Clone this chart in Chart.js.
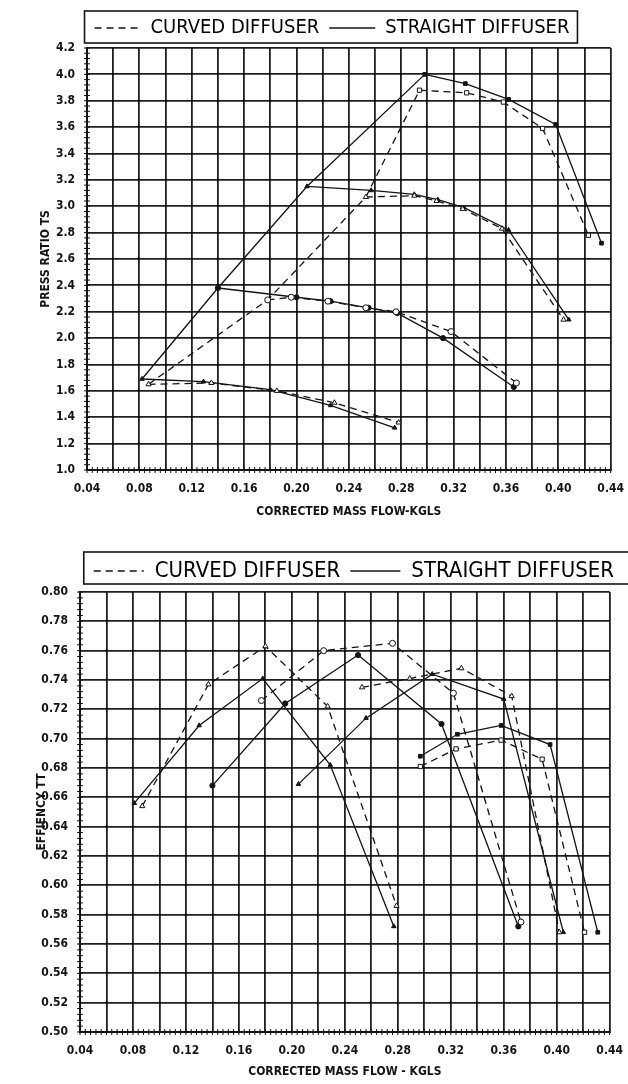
<!DOCTYPE html>
<html>
<head>
<meta charset="utf-8">
<script src="https://cdn.jsdelivr.net/npm/chart.js@4.4.1/dist/chart.umd.min.js"></script>
<style>
  html, body { margin: 0; padding: 0; background: #fff; }
  #wrap { position: relative; width: 628px; height: 1084px; overflow: hidden; }
  .box { position: absolute; left: 0; width: 628px; }
</style>
</head>
<body>
<div id="wrap">
  <div class="box" style="top:0;height:525px"><canvas id="press"></canvas></div>
  <div class="box" style="top:525px;height:559px"><canvas id="eff"></canvas></div>
</div>
<script>
// tick labels
const flowTicks = ['0.04', '0.08', '0.12', '0.16', '0.20', '0.24', '0.28', '0.32', '0.36', '0.40', '0.44'];
const pressTicks = ['1.0', '1.2', '1.4', '1.6', '1.8', '2.0', '2.2', '2.4', '2.6', '2.8', '3.0', '3.2', '3.4', '3.6', '3.8', '4.0', '4.2'];
const effTicks = ['0.50', '0.52', '0.54', '0.56', '0.58', '0.60', '0.62', '0.64', '0.66', '0.68', '0.70', '0.72', '0.74', '0.76', '0.78', '0.80'];

// press ratio T-S, one list per speed line: [mass flow, ratio]
const prStraightN1 = [[0.082, 1.69], [0.129, 1.67], [0.180, 1.61], [0.226, 1.49], [0.275, 1.32]];
const prStraightN2 = [[0.140, 2.38], [0.200, 2.31], [0.226, 2.28], [0.255, 2.23], [0.277, 2.19], [0.312, 2.00], [0.366, 1.63]];
const prStraightN3 = [[0.208, 3.15], [0.257, 3.12], [0.290, 3.09], [0.308, 3.05], [0.328, 2.99], [0.362, 2.82], [0.408, 2.14]];
const prStraightN4 = [[0.298, 4.00], [0.329, 3.93], [0.362, 3.81], [0.398, 3.62], [0.433, 2.72]];

const prCurvedN1 = [[0.087, 1.65], [0.135, 1.66], [0.185, 1.60], [0.229, 1.51], [0.278, 1.36]];
const prCurvedN2 = [[0.178, 2.29], [0.196, 2.31], [0.224, 2.28], [0.253, 2.23], [0.276, 2.20], [0.318, 2.05], [0.368, 1.66]];
const prCurvedN3 = [[0.253, 3.07], [0.290, 3.08], [0.307, 3.04], [0.327, 2.98], [0.357, 2.83], [0.404, 2.14]];
const prCurvedN4 = [[0.294, 3.88], [0.330, 3.86], [0.358, 3.79], [0.388, 3.59], [0.423, 2.78]];

// efficiency T-T
const effStraightN1 = [[0.081, 0.656], [0.130, 0.709], [0.178, 0.741], [0.229, 0.682], [0.277, 0.572]];
const effStraightN2 = [[0.140, 0.668], [0.195, 0.724], [0.250, 0.757], [0.313, 0.710], [0.371, 0.572]];
const effStraightN3 = [[0.205, 0.669], [0.256, 0.714], [0.306, 0.744], [0.360, 0.727], [0.405, 0.568]];
const effStraightN4 = [[0.297, 0.688], [0.325, 0.703], [0.358, 0.709], [0.395, 0.696], [0.431, 0.568]];

const effCurvedN1 = [[0.087, 0.654], [0.137, 0.737], [0.180, 0.763], [0.227, 0.722], [0.279, 0.586]];
const effCurvedN2 = [[0.177, 0.726], [0.224, 0.760], [0.276, 0.765], [0.322, 0.731], [0.373, 0.575]];
const effCurvedN3 = [[0.253, 0.735], [0.289, 0.741], [0.328, 0.748], [0.366, 0.729], [0.402, 0.568]];
const effCurvedN4 = [[0.297, 0.681], [0.324, 0.693], [0.358, 0.699], [0.389, 0.686], [0.421, 0.568]];

const markerStyles = ['triangle', 'circle', 'triangle', 'rect'];
const DASH = [7, 5];
const INK = '#141414';

Chart.defaults.font.family = "'Liberation Sans Narrow', 'DejaVu Sans Condensed', sans-serif";
Chart.defaults.color = INK;

function speedSets(lines, dashed) {
    return lines.map((pts, i) => ({
        data: pts.map(p => ({ x: p[0], y: p[1] })),
        showLine: true,
        borderColor: INK,
        borderWidth: 1.3,
        borderDash: dashed ? DASH : [],
        pointStyle: markerStyles[i],
        pointRadius: dashed ? 3 : 2.6,
        pointBackgroundColor: dashed ? '#fff' : INK,
        pointBorderColor: INK,
        pointBorderWidth: 1
    }));
}

// surge line joins the first point of each speed line
function surgeSet(lines, dashed) {
    return {
        data: lines.map(pts => ({ x: pts[0][0], y: pts[0][1] })),
        showLine: true,
        borderColor: INK,
        borderWidth: 1.3,
        borderDash: dashed ? DASH : [],
        pointRadius: 0
    };
}

// frame round the legend
const legendFrame = {
    id: 'legendFrame',
    afterDraw(chart, args, opts) {
        const boxes = chart.legend && chart.legend.legendHitBoxes;
        if (!boxes || !boxes.length) return;
        const l = Math.min(...boxes.map(b => b.left)) - opts.padLeft;
        const r = Math.max(...boxes.map(b => b.left + b.width)) + opts.padRight;
        const t = Math.min(...boxes.map(b => b.top)) - opts.padY + opts.shiftY;
        const btm = Math.max(...boxes.map(b => b.top + b.height)) + opts.padY + opts.shiftY;
        const ctx = chart.ctx;
        ctx.save();
        ctx.strokeStyle = INK;
        ctx.lineWidth = 1.6;
        ctx.strokeRect(l, t, r - l, btm - t);
        ctx.restore();
    }
};

// short minor ticks along the left and bottom axes
const minorTicks = {
    id: 'minorTicks',
    afterDatasetsDraw(chart, args, opts) {
        const { ctx, chartArea, scales } = chart;
        ctx.save();
        ctx.strokeStyle = INK;
        ctx.lineWidth = 1;
        ctx.beginPath();
        const nx = Math.round((scales.x.max - scales.x.min) / opts.xStep);
        for (let i = 0; i <= nx; i++) {
            const p = scales.x.getPixelForValue(scales.x.min + i * opts.xStep);
            ctx.moveTo(p, chartArea.bottom - 3);
            ctx.lineTo(p, chartArea.bottom + 3);
        }
        const ny = Math.round((scales.y.max - scales.y.min) / opts.yStep);
        for (let i = 0; i <= ny; i++) {
            const p = scales.y.getPixelForValue(scales.y.min + i * opts.yStep);
            ctx.moveTo(chartArea.left - 3, p);
            ctx.lineTo(chartArea.left + 3, p);
        }
        ctx.stroke();
        ctx.restore();
    }
};

function makeOptions(cfg) {
    const yMin = parseFloat(cfg.yTicks[0]);
    const yMax = parseFloat(cfg.yTicks[cfg.yTicks.length - 1]);
    const yStep = parseFloat(cfg.yTicks[1]) - yMin;
    const xMin = parseFloat(flowTicks[0]);
    const xMax = parseFloat(flowTicks[flowTicks.length - 1]);
    return {
        responsive: true,
        maintainAspectRatio: false,
        animation: false,
        layout: { padding: cfg.padding },
        plugins: {
            tooltip: { enabled: false },
            legend: {
                position: 'top',
                align: cfg.legendAlign,
                labels: {
                    usePointStyle: true,
                    pointStyleWidth: cfg.legendLine,
                    padding: cfg.legendGap,
                    font: { size: cfg.legendFont },
                    color: INK,
                    generateLabels: () => [
                        { text: 'CURVED DIFFUSER', pointStyle: 'line', lineDash: DASH, strokeStyle: INK, lineWidth: 1.6, fillStyle: 'rgba(0,0,0,0)', hidden: false, datasetIndex: 0 },
                        { text: 'STRAIGHT DIFFUSER', pointStyle: 'line', lineDash: [], strokeStyle: INK, lineWidth: 1.6, fillStyle: 'rgba(0,0,0,0)', hidden: false, datasetIndex: 1 }
                    ]
                }
            },
            legendFrame: cfg.frame,
            minorTicks: { xStep: 0.004, yStep: yStep / 5 }
        },
        scales: {
            x: {
                type: 'linear',
                min: xMin,
                max: xMax,
                grid: {
                    color: 'rgba(0,0,0,0.88)', lineWidth: 1.8,
                    drawTicks: true, tickLength: 12 - cfg.xTickPad, tickColor: 'rgba(0,0,0,0)'
                },
                border: { color: INK, width: 2 },
                ticks: {
                    stepSize: 0.02,
                    padding: cfg.xTickPad,
                    maxRotation: 0,
                    autoSkip: false,
                    font: { size: 12, weight: 'bold' },
                    callback: v => {
                        const s = v.toFixed(2);
                        return flowTicks.includes(s) ? s : '';
                    }
                },
                title: {
                    display: true,
                    text: cfg.xTitle,
                    font: { size: 12, weight: 'bold' },
                    padding: { top: 0, bottom: 2 }
                },
                afterFit: s => { s.height = cfg.xHeight; }
            },
            y: {
                type: 'linear',
                min: yMin,
                max: yMax,
                grid: { color: 'rgba(0,0,0,0.88)', lineWidth: 1.8, drawTicks: false },
                border: { color: INK, width: 2 },
                ticks: {
                    stepSize: yStep,
                    padding: 12,
                    autoSkip: false,
                    font: { size: 12, weight: 'bold' },
                    callback: v => v.toFixed(cfg.yDecimals)
                },
                title: {
                    display: true,
                    text: cfg.yTitle,
                    font: { size: 12, weight: 'bold' },
                    padding: { top: cfg.yTitlePad, bottom: 0 }
                },
                afterFit: s => { s.width = cfg.yWidth; }
            }
        }
    };
}

const pressStraight = [prStraightN1, prStraightN2, prStraightN3, prStraightN4];
const pressCurved = [prCurvedN1, prCurvedN2, prCurvedN3, prCurvedN4];

new Chart(document.getElementById('press'), {
    type: 'scatter',
    data: {
        datasets: [
            ...speedSets(pressCurved, true),
            ...speedSets(pressStraight, false),
            surgeSet(pressCurved, true),
            surgeSet(pressStraight, false)
        ]
    },
    options: makeOptions({
        yTicks: pressTicks, yDecimals: 1,
        xTitle: 'CORRECTED MASS FLOW-KGLS', yTitle: 'PRESS RATIO TS',
        padding: { left: 40, right: 4, top: 8, bottom: 4 },
        yWidth: 47, yTitlePad: -1, xHeight: 51, xTickPad: 4,
        legendAlign: 'center', legendLine: 46, legendGap: 10, legendFont: 20,
        frame: { padLeft: 10, padRight: 8, padY: 6, shiftY: -1 }
    }),
    plugins: [legendFrame, minorTicks]
});

const effStraight = [effStraightN1, effStraightN2, effStraightN3, effStraightN4];
const effCurved = [effCurvedN1, effCurvedN2, effCurvedN3, effCurvedN4];

new Chart(document.getElementById('eff'), {
    type: 'scatter',
    data: {
        datasets: [
            ...speedSets(effCurved, true),
            ...speedSets(effStraight, false)
        ]
    },
    options: makeOptions({
        yTicks: effTicks, yDecimals: 2,
        xTitle: 'CORRECTED MASS FLOW - KGLS', yTitle: 'EFFIENCY TT',
        padding: { left: 0, right: 4, top: 25, bottom: 3 },
        yWidth: 80, yTitlePad: 35, xHeight: 49, xTickPad: 5,
        legendAlign: 'end', legendLine: 50, legendGap: 10, legendFont: 22,
        frame: { padLeft: 10, padRight: 40, padY: 5, shiftY: -3 }
    }),
    plugins: [legendFrame, minorTicks]
});
</script>
</body>
</html>
